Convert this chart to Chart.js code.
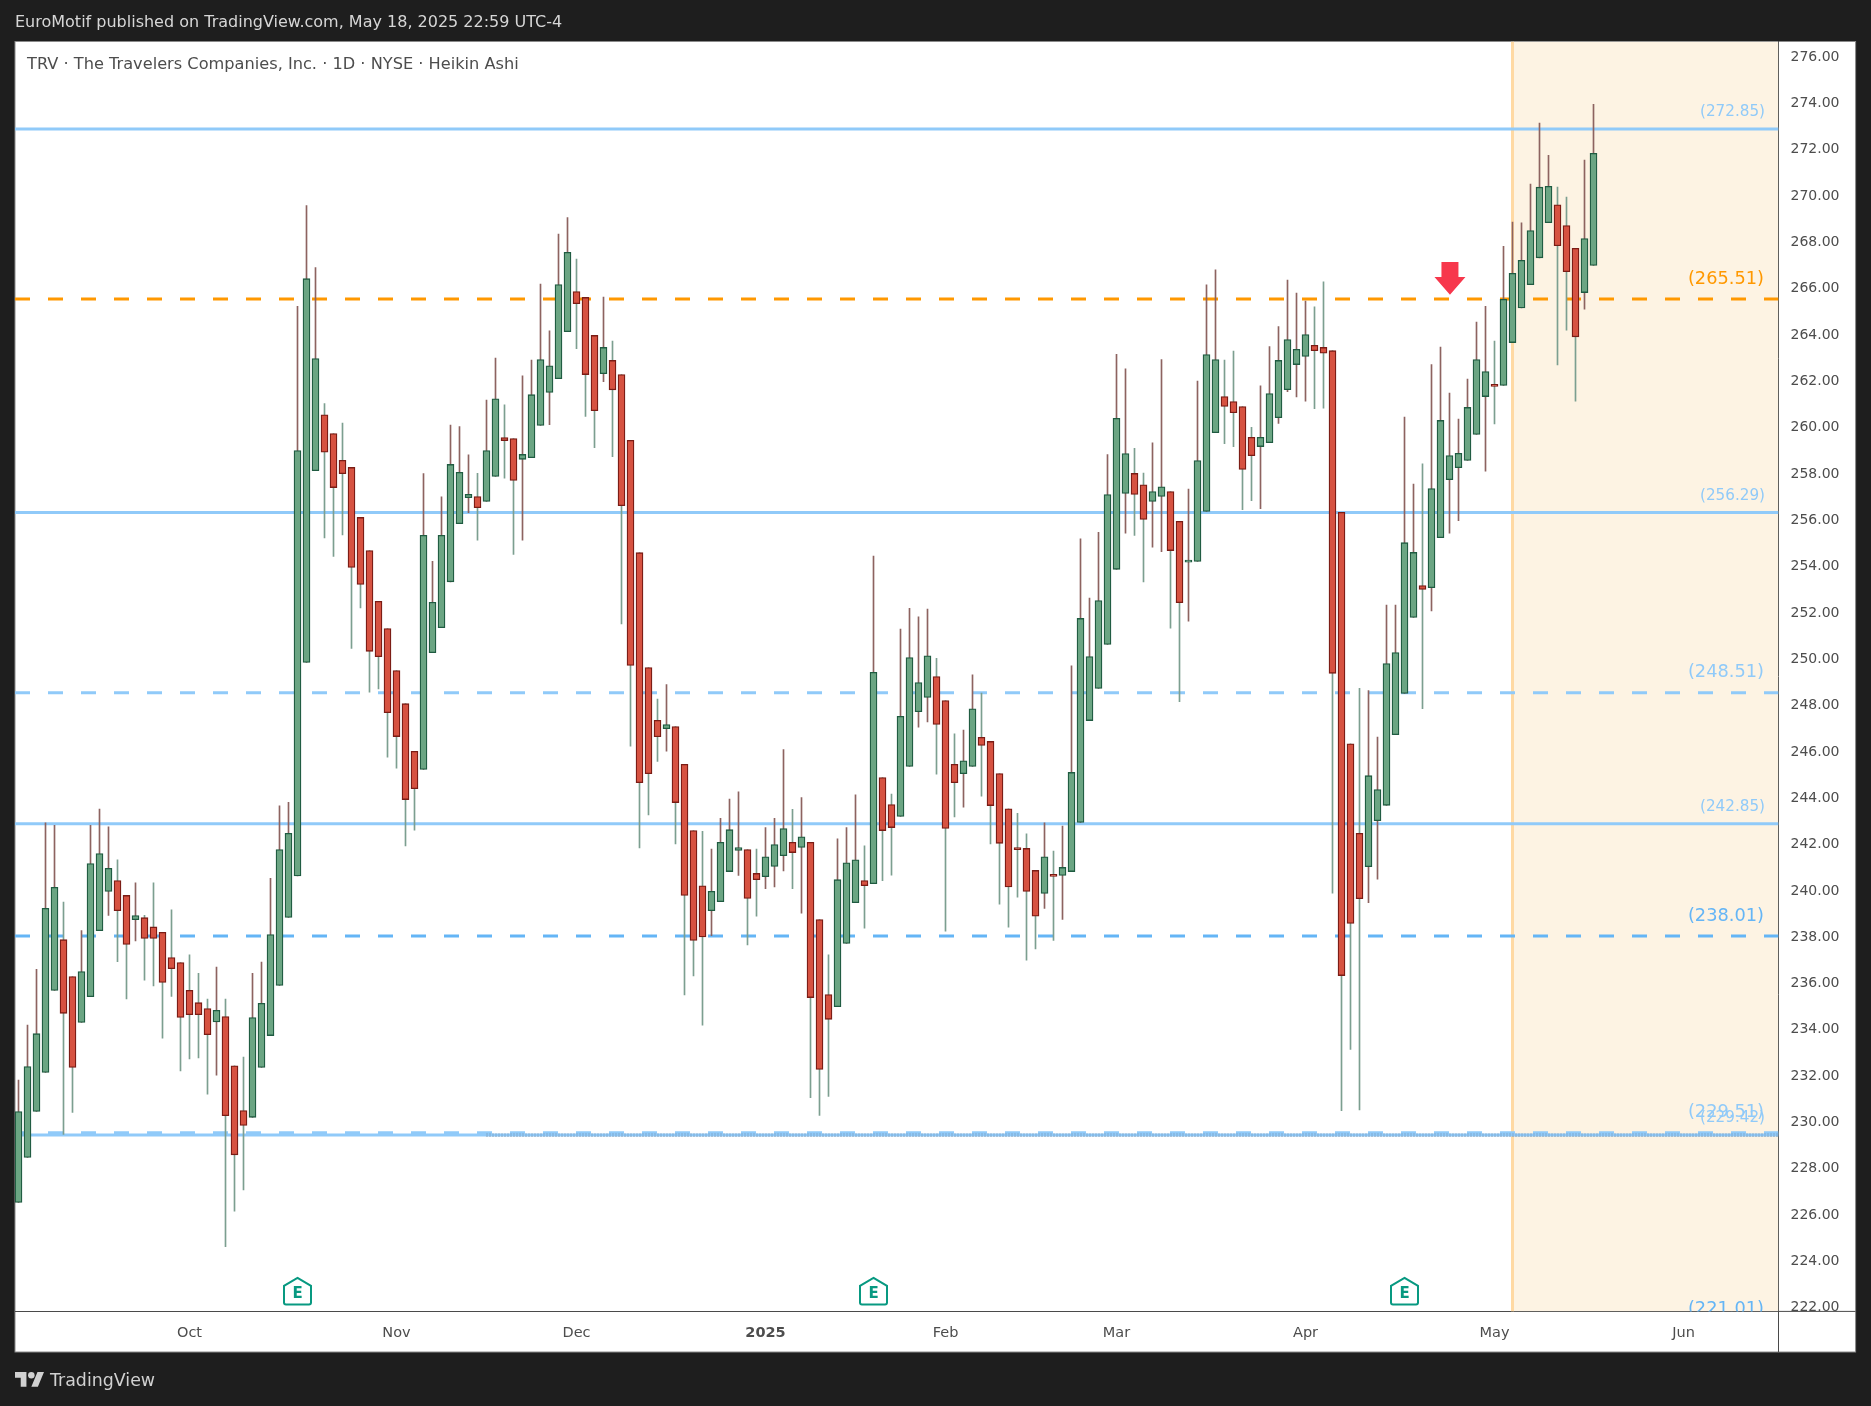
<!DOCTYPE html>
<html><head><meta charset="utf-8">
<style>html,body{margin:0;padding:0;background:#1e1e1e}canvas{display:block}</style>
<script src="https://cdn.jsdelivr.net/npm/chart.js@4"></script>
</head><body><canvas id="c" width="1871" height="1406"></canvas>
<script>
const opens=[226.5,228.45,230.43,232.12,235.66,237.85,236.26,234.28,235.39,238.24,
239.93,240.4,239.76,238.71,238.8,238.4,238.17,237.08,236.86,235.66,
235.13,234.88,234.3,234.53,232.4,230.47,230.18,232.33,233.71,235.87,
238.81,240.6,249.82,258.1,260.51,259.7,258.55,258.24,256.08,254.65,
252.46,251.28,249.47,248.04,245.98,245.2,250.24,251.32,253.3,255.81,
256.93,256.98,256.77,257.85,259.53,259.49,258.59,258.66,260.05,261.48,
262.07,264.1,265.83,265.58,263.94,262.29,262.86,262.25,259.41,254.56,
249.6,247.32,246.96,247.05,245.42,242.56,240.18,239.1,239.49,240.79,
241.7,241.74,240.71,240.57,241.01,241.48,242.05,241.83,242.05,238.72,
235.48,234.96,237.69,239.45,240.4,240.27,244.85,243.68,243.17,245.33,
247.69,248.31,249.21,248.17,245.42,245.02,245.33,246.59,246.41,245.02,
243.5,241.83,241.79,240.84,239.85,240.62,240.62,240.79,242.91,247.31,
248.7,250.6,253.84,257.12,257.98,257.49,256.77,256.99,257.2,255.91,
254.15,254.18,256.34,259.74,261.3,261.08,260.87,259.54,259.14,259.31,
260.39,261.6,262.68,263.03,263.51,263.42,263.28,256.3,246.31,242.44,
241.0,242.99,243.65,246.7,248.48,251.76,253.14,253.05,255.21,257.71,
258.23,258.54,259.66,261.3,261.82,261.78,263.63,265.13,266.13,267.29,
268.81,269.58,268.68,267.7,265.79,266.96];
const closes=[230.43,232.37,233.79,239.2,240.11,234.67,232.33,236.47,241.14,241.57,
240.93,239.1,237.64,238.89,237.9,237.9,236,236.6,234.49,234.61,
234.61,233.75,234.8,230.25,228.56,229.83,234.49,235.1,238.07,241.74,
242.44,258.97,266.39,262.94,258.9,257.37,257.97,253.92,253.19,250.3,
250.07,247.65,246.62,243.9,244.37,255.31,252.42,255.31,258.37,258.03,
257.08,256.5,258.97,261.2,259.4,257.68,258.8,261.38,262.9,262.63,
266.14,267.53,265.31,262.25,260.69,263.42,261.59,256.59,249.69,244.63,
245.02,246.61,247.14,243.77,239.76,237.82,237.97,239.94,242.05,242.6,
241.83,239.63,240.44,241.43,241.96,242.65,241.61,242.29,235.35,232.25,
234.41,240.44,241.17,241.3,240.18,249.39,242.56,242.69,247.49,250.03,
248.95,250.11,247.14,242.65,244.63,245.57,247.82,246.24,243.64,242.01,
240.13,241.74,239.93,238.86,241.43,240.58,240.97,245.07,251.72,250.07,
252.49,257.07,260.36,258.84,257.07,255.99,257.2,257.4,254.65,252.4,
254.19,258.54,263.11,262.9,260.87,260.6,258.15,258.75,259.54,261.43,
262.86,263.76,263.34,263.98,263.28,263.17,249.35,236.3,238.55,239.62,
244.93,244.33,249.77,250.25,254.99,254.57,252.97,257.33,260.27,258.75,
258.85,260.83,262.9,262.38,261.74,265.5,266.62,267.18,268.47,270.34,
270.38,267.81,266.69,263.88,268.12,271.8];
const highs=[231.79,234.16,236.57,242.89,242.79,239.47,236.26,238.24,242.79,243.49,
242.72,241.3,239.76,240.3,238.9,240.3,238.17,239.14,236.86,237.2,
236.4,235.29,236.67,235.29,232.4,232.78,236.4,236.88,240.5,243.63,
243.78,265.2,269.55,266.87,261.0,259.7,260.15,258.24,256.08,254.65,
252.46,251.28,249.47,248.04,245.98,257.97,254.19,256.97,260.07,260.0,
258.78,257.99,261.15,262.96,260.94,259.49,262.19,262.88,266.16,264.14,
268.32,269.03,267.24,265.58,263.94,265.6,263.69,262.25,259.41,254.56,
249.6,248.24,248.86,247.05,245.42,242.56,242.53,241.76,243.09,243.92,
244.23,241.74,241.76,242.69,243.09,246.06,243.48,243.99,242.05,238.72,
237.2,242.2,242.69,244.1,241.9,254.41,244.85,244.14,251.26,252.16,
251.79,252.12,250.0,248.17,246.74,246.9,249.28,248.5,246.41,245.02,
243.5,243.3,242.42,240.84,242.89,241.68,242.75,249.67,255.16,252.6,
255.44,258.79,263.12,262.5,259.06,258,259.3,262.9,257.2,255.91,
257.3,261.97,266.12,266.77,262.88,263.26,260.87,259.97,261.76,263.46,
264.32,266.33,265.77,265.42,265.17,266.25,263.28,256.3,246.31,248.7,
248.6,246.6,252.3,252.3,260.41,257.52,258.39,262.68,263.44,261.45,
260.33,262.05,264.52,265.2,263.7,267.79,268.83,268.8,270.47,273.11,
271.72,270.34,269.91,267.7,271.51,273.92];
const lows=[226.5,228.45,230.43,232.12,235.66,229.44,230.39,234.28,235.39,238.24,
238.9,236.9,235.29,237.8,236.1,235.85,233.6,235.4,232.18,232.7,
232.74,231.18,232.0,224.6,226.13,227.05,230.18,232.33,233.71,235.87,
238.81,240.6,249.82,258.1,255.2,254.4,255.33,250.43,252.17,248.54,
248.68,245.73,245.26,241.9,242.58,245.2,250.24,251.32,253.3,255.81,
256.29,255.1,256.77,257.85,257.78,254.48,255.1,258.66,260.05,260.09,
262.07,264.1,263.37,260.44,259.09,261.94,258.7,251.48,246.21,241.81,
243.24,245.55,245.99,241.98,235.46,236.28,234.16,238.02,239.49,240.79,
240.62,237.62,238.86,240.05,240.13,240.82,240.05,238.99,231.03,230.26,
231.08,234.96,237.69,239.45,238.35,240.27,240.4,240.64,243.17,245.33,
247.03,247.25,245.0,238.22,243.15,243.57,245.33,244.05,241.98,239.38,
238.39,239.69,236.96,237.45,239.2,237.82,238.72,240.79,242.91,247.31,
248.7,250.6,253.84,255.4,255.3,253.3,254.8,254.6,251.3,248.13,
251.6,254.18,256.34,259.74,259.27,259.14,256.42,256.8,256.46,259.31,
260.14,261.51,261.28,261.1,260.78,260.8,239.86,230.47,233.11,230.5,
239.45,240.46,243.65,246.7,248.48,251.76,247.82,252.04,255.21,255.4,
255.94,258.54,259.66,258.08,260.12,261.78,263.63,265.13,266.13,267.29,
268.81,262.67,264.17,261.1,265.07,266.96];

const xTickIndex=[19,42,62,83,103,122,143,164,185];
const xTickLabels=['Oct','Nov','Dec','2025','Feb','Mar','Apr','May','Jun'];
const yTicks=[222,224,226,228,230,232,234,236,238,240,242,244,246,248,250,252,254,256,258,260,262,264,266,268,270,272,274,276];
const solidLevels=[272.85,256.29,242.85,229.42];
const solidColors=['#90caf9','#90caf9','#90caf9','#90caf9'];
const dashedLevels=[265.51,248.51,238.01,229.51,221.01];
const dashedColors=['#ff9800','#90caf9','#64b5f6','#90caf9','#64b5f6'];
const earningsIndex=[31,95,154];
const signalIndex=159.05;
const shadeStart=166;
const dottedLevels=[229.46,229.37];
const dottedStart=52;
const xMin=-0.3889,xMax=195.5556,yMin=221.8,yMax=276.63;

const FONT='"DejaVu Sans"';
const GREEN='#6ba583',GREEN_B='#1f5b41',RED='#d65241',RED_B='#7a1c15',WICK_UP='#8d6360',WICK_DN='#7c9f90';
const isUp=i=>closes[i]>=opens[i];
const idx=opens.map((_,i)=>i);

const frame={id:'frame',
 beforeDraw(ch){const c=ch.ctx;c.save();
  c.fillStyle='#1e1e1e';c.fillRect(0,0,1871,1406);
  c.fillStyle='#ffffff';c.fillRect(15,41.5,1840.6,1310.5);
  c.strokeStyle='#8a8a8a';c.lineWidth=1;c.strokeRect(15,41.5,1840.6,1310.5);
  c.fillStyle='#d6d6d6';c.font='16px '+FONT;c.textBaseline='middle';c.textAlign='left';
  c.fillText('EuroMotif published on TradingView.com, May 18, 2025 22:59 UTC-4',15,23);
  c.fillStyle='#d1d1d1';c.font='17.4px '+FONT;c.fillText('TradingView',50,1381);
  c.translate(15,1368.7);c.scale(.817,.817);
  c.fill(new Path2D('M14 22H7V11H0V4h14v18zM28 22h-8l7.5-18h8L28 22z'));
  c.beginPath();c.arc(20,8,4,0,7);c.fill();
  c.restore();},
 afterDraw(ch){const c=ch.ctx,a=ch.chartArea;c.save();
  c.strokeStyle='#4a4a4a';c.lineWidth=1;c.beginPath();
  c.moveTo(a.right,a.bottom);c.lineTo(1855.6,a.bottom);
  c.moveTo(a.right,a.bottom);c.lineTo(a.right,1352);c.stroke();c.restore();},
 afterDatasetsDraw(ch){const c=ch.ctx,x=ch.scales.x,y=ch.scales.y,a=ch.chartArea;c.save();
  c.beginPath();c.rect(a.left,a.top,a.right-a.left,a.bottom-a.top);c.clip();
  c.textAlign='right';c.textBaseline='middle';
  solidLevels.forEach((v,i)=>{c.font='15.2px '+FONT;c.fillStyle=solidColors[i];c.fillText('('+v.toFixed(2)+')',1765,y.getPixelForValue(v)-17);});
  dashedLevels.forEach((v,i)=>{c.font='17.8px '+FONT;c.fillStyle=dashedColors[i];c.fillText('('+v.toFixed(2)+')',1764,y.getPixelForValue(v)-20);});
  c.fillStyle='#f7374c';const ax=x.getPixelForValue(signalIndex);
  c.beginPath();c.moveTo(ax-8.5,262);c.lineTo(ax+8.5,262);c.lineTo(ax+8.5,277);c.lineTo(ax+15.5,277);c.lineTo(ax,294.8);c.lineTo(ax-15.5,277);c.lineTo(ax-8.5,277);c.closePath();c.fill();
  earningsIndex.forEach(i=>{const p=x.getPixelForValue(i),t=a.bottom-33.5,b=a.bottom-7;
   c.beginPath();c.moveTo(p,t);c.lineTo(p+13.5,t+8);c.lineTo(p+13.5,b-2);c.quadraticCurveTo(p+13.5,b,p+11.5,b);c.lineTo(p-11.5,b);c.quadraticCurveTo(p-13.5,b,p-13.5,b-2);c.lineTo(p-13.5,t+8);c.closePath();
   c.fillStyle='#ffffff';c.fill();c.strokeStyle='#089981';c.lineWidth=2;c.stroke();
   c.fillStyle='#089981';c.font='bold 15px '+FONT;c.textAlign='center';c.fillText('E',p,t+16.5);});
  c.textAlign='left';c.fillStyle='#4d4d4d';c.font='16.2px '+FONT;
  c.fillText('TRV · The Travelers Companies, Inc. · 1D · NYSE · Heikin Ashi',27,64.5);
  c.restore();}
};

const ln=(data,color,extra)=>Object.assign({type:'line',data,borderColor:color,borderWidth:3,pointRadius:0,pointHoverRadius:0,fill:false,order:5,tension:0},extra||{});
const datasets=[
 ln([{x:shadeStart,y:yMax},{x:xMax,y:yMax}],'rgba(0,0,0,0)',{borderWidth:0,fill:{value:yMin},backgroundColor:'#fdf3e3',order:9}),
 ln([{x:shadeStart,y:yMin},{x:shadeStart,y:yMax}],'#ffd9a3',{order:8}),
 ...solidLevels.map((v,i)=>ln([{x:xMin,y:v},{x:xMax,y:v}],solidColors[i])),
 ...dashedLevels.map((v,i)=>ln([{x:xMin,y:v},{x:xMax,y:v}],dashedColors[i],{borderDash:[15,18]})),
 ...dottedLevels.map(v=>ln([{x:dottedStart,y:v},{x:xMax,y:v}],'#6f8aa6',{borderWidth:1.2,borderDash:[1,2],order:4})),
 {type:'bar',label:'wick',order:2,grouped:false,barThickness:1,
  data:idx.map(i=>({x:i,y:[lows[i],highs[i]]})),
  backgroundColor:idx.map(i=>isUp(i)?WICK_UP:WICK_DN),borderWidth:0},
 {type:'bar',label:'body',order:1,grouped:false,barThickness:7,minBarLength:2,
  data:idx.map(i=>({x:i,y:[opens[i],closes[i]]})),
  backgroundColor:idx.map(i=>isUp(i)?GREEN:RED),
  borderColor:idx.map(i=>isUp(i)?GREEN_B:RED_B),borderWidth:1.3,borderSkipped:false}
];

new Chart(document.getElementById('c'),{
 type:'bar',
 data:{datasets},
 plugins:[frame],
 options:{responsive:false,animation:false,devicePixelRatio:1,
  layout:{padding:{left:15,top:41.5,right:15.4,bottom:54}},
  plugins:{legend:{display:false},title:{display:false},tooltip:{enabled:false}},
  scales:{
   x:{type:'linear',offset:false,min:xMin,max:xMax,
    grid:{display:false,drawTicks:false},border:{display:true,color:'#4a4a4a',width:1},
    afterBuildTicks:s=>{s.ticks=xTickIndex.map(v=>({value:v}));},
    afterFit:s=>{s.height=40.6;},
    ticks:{autoSkip:false,maxRotation:0,padding:13,color:'#4d4d4d',
     font:c=>({family:FONT,size:14.5,weight:c.tick&&c.tick.value===83?'bold':'normal'}),
     callback:v=>xTickLabels[xTickIndex.indexOf(v)]}},
   y:{type:'linear',position:'right',min:yMin,max:yMax,
    grid:{display:false,drawTicks:false},border:{display:true,color:'#4a4a4a',width:1},
    afterBuildTicks:s=>{s.ticks=yTicks.map(v=>({value:v}));},
    afterFit:s=>{s.width=77.1;},
    ticks:{autoSkip:false,padding:12,labelOffset:1,color:'#4d4d4d',font:{family:FONT,size:14},callback:v=>v.toFixed(2)}}
  }}
});
</script></body></html>
